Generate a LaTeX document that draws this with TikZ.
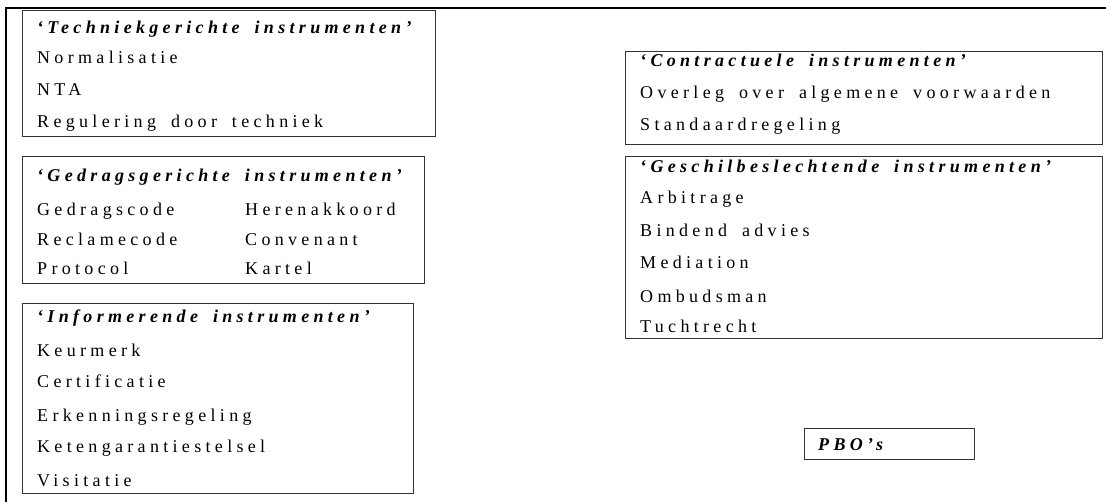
\documentclass[tikz,border=0pt]{standalone}
\usepackage{fontspec}
\setmainfont{Liberation Serif}
\newfontfamily\lsf[LetterSpace=24,WordSpace=1.7]{Liberation Serif}
\begin{document}
\begin{tikzpicture}[x=1pt,y=-1pt,
  box/.style={draw=black!80, line width=0.9pt},
  frame/.style={draw=black, line width=2.6pt},
  item/.style={anchor=base west, inner sep=0pt, font=\lsf\fontsize{18}{20}\selectfont},
  ttl/.style={anchor=base west, inner sep=0pt, font=\lsf\bfseries\itshape\fontsize{18}{20}\selectfont}]
\useasboundingbox[fill=white] (0,0) rectangle (1106,502);
% outer frame (top and left)
\draw[frame] (5,8) -- (1106,8);
\draw[frame] (6,8) -- (6,502);
% Techniekgerichte
\draw[box] (22,10) rectangle (435,136);
\node[ttl]  (t0) at (37,34)  {‘Techniekgerichte instrumenten’};
\node[item] (t1) at (37,64)  {Normalisatie};
\node[item] (t2) at (37,96)  {NTA};
\node[item] (t3) at (37,128) {Regulering door techniek};
% Gedragsgerichte
\draw[box] (22,156) rectangle (424,283);
\node[ttl]  (g0) at (37,182) {‘Gedragsgerichte instrumenten’};
\node[item] (g1) at (37,216) {Gedragscode};
\node[item] (g2) at (37,246) {Reclamecode};
\node[item] (g3) at (37,275) {Protocol};
\node[item] (g4) at (245,216) {Herenakkoord};
\node[item] (g5) at (245,246) {Convenant};
\node[item] (g6) at (245,275) {Kartel};
% Informerende
\draw[box] (22,303) rectangle (413,493);
\node[ttl]  (i0) at (37,323) {‘Informerende instrumenten’};
\node[item] (i1) at (37,357) {Keurmerk};
\node[item] (i2) at (37,388) {Certificatie};
\node[item] (i3) at (37,421) {Erkenningsregeling};
\node[item] (i4) at (37,453) {Ketengarantiestelsel};
\node[item] (i5) at (37,486) {Visitatie};
% Contractuele
\draw[box] (625,51) rectangle (1102,144);
\node[ttl]  (c0) at (640,67)  {‘Contractuele instrumenten’};
\node[item] (c1) at (640,99)  {Overleg over algemene voorwaarden};
\node[item] (c2) at (640,131) {Standaardregeling};
% Geschilbeslechtende
\draw[box] (625,156) rectangle (1102,338);
\node[ttl]  (s0) at (640,173) {‘Geschilbeslechtende instrumenten’};
\node[item] (s1) at (640,204) {Arbitrage};
\node[item] (s2) at (640,237) {Bindend advies};
\node[item] (s3) at (640,269) {Mediation};
\node[item] (s4) at (640,303) {Ombudsman};
\node[item] (s5) at (640,333) {Tuchtrecht};
% PBO
\draw[box] (804,428) rectangle (974,459);
\node[ttl]  (p0) at (818,450) {PBO’s};
\end{tikzpicture}
\end{document}
